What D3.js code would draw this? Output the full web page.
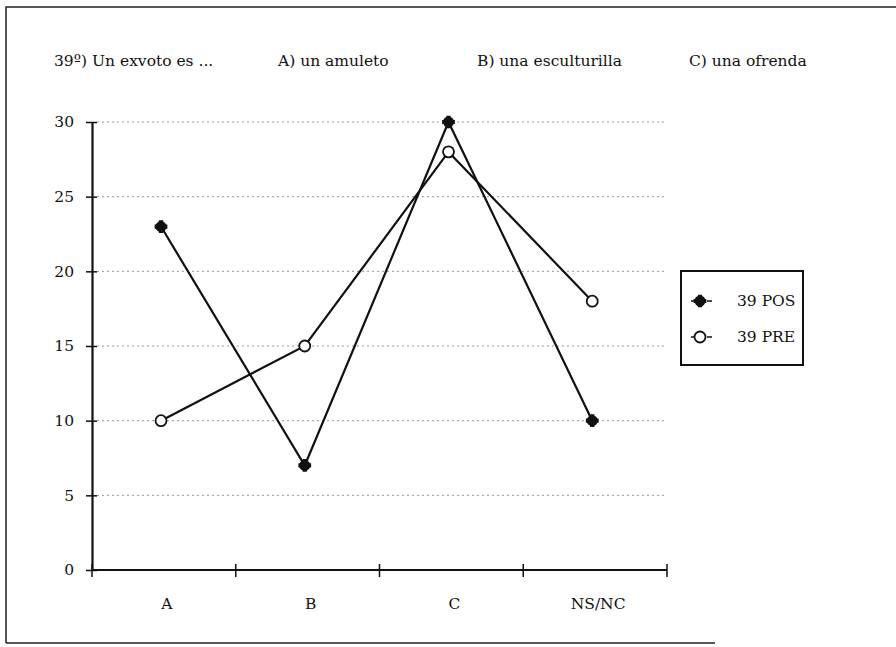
<!DOCTYPE html>
<head>
    <meta charset="utf-8">
    <script src="https://d3js.org/d3.v7.min.js"></script>
    <style>
      body { margin: 0; background: #fff; }
      text { font-family: "DejaVu Serif", "Liberation Serif", serif; fill: #111; }
      .grid line { stroke: #999; stroke-dasharray: 2,3; stroke-width: 1; }
    </style>
</head>
<body>
    <div class="chart"></div>

    <script>
      // data
      var categories = ['A', 'B', 'C', 'NS/NC'];
      var pos = [23, 7, 30, 10];
      var pre = [10, 15, 28, 18];
      var yTicks = [0, 5, 10, 15, 20, 25, 30];
      var headers = ['39º) Un exvoto es ...', 'A) un amuleto', 'B) una esculturilla', 'C) una ofrenda'];
      var headerX = [54, 278, 477, 689];
      var legendNames = ['39 POS', '39 PRE'];

      var width = 896, height = 647;
      var margin = {top: 122, right: 227, bottom: 77, left: 92};
      var fs = 15.5;

      var svg = d3.select('.chart').append('svg')
          .attr('width', width)
          .attr('height', height);

      // frame (left, top, bottom; right side runs off the scan)
      svg.append('path')
          .attr('d', 'M6,643 L6,7 L896,7 M6,643 L715,643')
          .attr('fill', 'none')
          .attr('stroke', '#222')
          .attr('stroke-width', 1.5);

      svg.selectAll('.hdr')
          .data(headers)
          .enter().append('text')
          .attr('class', 'hdr')
          .attr('x', function(d, i) { return headerX[i]; })
          .attr('y', 66)
          .attr('font-size', fs)
          .text(function(d) { return d; });

      var xScale = d3.scaleBand()
          .domain(categories)
          .range([margin.left, width - margin.right - 2]);

      var yScale = d3.scaleLinear()
          .domain([0, 30])
          .range([height - margin.bottom, margin.top]);

      var px = function(i) { return xScale(categories[i]) + xScale.bandwidth() * 0.48; };

      // grid
      svg.append('g').attr('class', 'grid')
          .selectAll('line')
          .data(yTicks.filter(function(d) { return d > 0; }))
          .enter().append('line')
          .attr('x1', margin.left + 5)
          .attr('x2', width - margin.right - 5)
          .attr('y1', function(d) { return yScale(d); })
          .attr('y2', function(d) { return yScale(d); });

      // y axis
      var yAxis = d3.axisLeft(yScale)
          .tickValues(yTicks)
          .tickSizeInner(-5)
          .tickSizeOuter(0)
          .tickPadding(18);

      var gy = svg.append('g')
          .attr('transform', 'translate(' + margin.left + ',0)')
          .call(yAxis);
      gy.select('.domain').attr('stroke', '#111').attr('stroke-width', 2.2);
      gy.selectAll('.tick line').attr('x1', -6).attr('x2', 5).attr('stroke', '#111').attr('stroke-width', 1.5);
      gy.selectAll('.tick text')
          .attr('font-size', fs)
          .attr('font-family', '"DejaVu Serif", serif');

      // x axis
      var xEdges = categories.map(function(c) { return xScale(c); }).concat([xScale.range()[1]]);
      var gx = svg.append('g');
      gx.append('line')
          .attr('x1', margin.left).attr('x2', xScale.range()[1])
          .attr('y1', yScale(0)).attr('y2', yScale(0))
          .attr('stroke', '#111').attr('stroke-width', 2.2);
      gx.selectAll('.xt')
          .data(xEdges)
          .enter().append('line')
          .attr('class', 'xt')
          .attr('x1', function(d) { return d; }).attr('x2', function(d) { return d; })
          .attr('y1', yScale(0) - 6).attr('y2', yScale(0) + 7)
          .attr('stroke', '#111').attr('stroke-width', 1.5);
      gx.selectAll('.xl')
          .data(categories)
          .enter().append('text')
          .attr('class', 'xl')
          .attr('x', function(d) { return xScale(d) + xScale.bandwidth() / 2 + 3; })
          .attr('y', 609)
          .attr('text-anchor', 'middle')
          .attr('font-size', fs)
          .text(function(d) { return d; });

      var line = d3.line()
          .x(function(d, i) { return px(i); })
          .y(function(d) { return yScale(d); });

      [pos, pre].forEach(function(series) {
          svg.append('path')
              .datum(series)
              .attr('d', line)
              .attr('fill', 'none')
              .attr('stroke', '#111')
              .attr('stroke-width', 2.2);
      });

      var cross = d3.symbol().type(d3.symbolCross).size(90);

      function posMarker(g, x, y) {
          g.append('circle').attr('cx', x).attr('cy', y).attr('r', 5.5).attr('fill', '#111');
          g.append('path').attr('d', cross).attr('transform', 'translate(' + x + ',' + y + ')').attr('fill', '#111');
      }
      function preMarker(g, x, y) {
          g.append('circle').attr('cx', x).attr('cy', y).attr('r', 5.5)
              .attr('fill', '#fff').attr('stroke', '#111').attr('stroke-width', 1.8);
      }

      var marks = svg.append('g');
      pre.forEach(function(v, i) { preMarker(marks, px(i), yScale(v)); });
      pos.forEach(function(v, i) { posMarker(marks, px(i), yScale(v)); });

      // legend
      var lg = svg.append('g').attr('transform', 'translate(681,271)');
      lg.append('rect')
          .attr('width', 122).attr('height', 94)
          .attr('fill', '#fff').attr('stroke', '#111').attr('stroke-width', 2);
      legendNames.forEach(function(name, i) {
          var y = 30 + i * 36;
          lg.append('line').attr('x1', 10).attr('x2', 13).attr('y1', y).attr('y2', y).attr('stroke', '#111').attr('stroke-width', 1.5);
          lg.append('line').attr('x1', 26).attr('x2', 31).attr('y1', y).attr('y2', y).attr('stroke', '#111').attr('stroke-width', 1.5);
          if (i === 0) posMarker(lg, 19, y); else preMarker(lg, 19, y);
          lg.append('text')
              .attr('x', 56).attr('y', y + 5)
              .attr('font-size', fs)
              .text(name);
      });
    </script>
</body>
